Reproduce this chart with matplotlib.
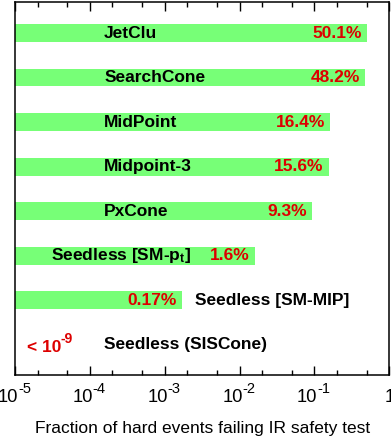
import numpy as np
import matplotlib
matplotlib.use("Agg")
import matplotlib.pyplot as plt

plt.rcParams['font.family'] = ['Liberation Sans', 'DejaVu Sans']
plt.rcParams['mathtext.fontset'] = 'custom'
plt.rcParams['mathtext.rm'] = 'Liberation Sans'
plt.rcParams['mathtext.bf'] = 'Liberation Sans:bold'
plt.rcParams['mathtext.it'] = 'Liberation Sans:italic'

# data
algos = ['JetClu', 'SearchCone', 'MidPoint', 'Midpoint-3', 'PxCone',
         r'Seedless [SM-p$_{\mathbf{t}}$]', 'Seedless [SM-MIP]', 'Seedless (SISCone)']
fractions = [0.501, 0.482, 0.164, 0.156, 0.093, 0.016, 0.0017, 1e-9]
pct_labels = ['50.1%', '48.2%', '16.4%', '15.6%', '9.3%', '1.6%', '0.17%', '< 10']
name_x = [1.55e-4, 1.55e-4, 1.55e-4, 1.55e-4, 1.55e-4, 3.0e-5, 2.55e-3, 1.55e-4]

xticks = [1e-5, 1e-4, 1e-3, 1e-2, 1e-1, 1]
xtick_exps = ['-5', '-4', '-3', '-2', '-1', None]

xmin, xmax = 1e-5, 1.0
green = '#77ff77'
red = '#dd0000'
PX = 0.72  # points per pixel at 100 dpi

fig = plt.figure(figsize=(3.91, 4.36), dpi=100)
ax = fig.add_axes([0.0384, 0.140, 0.957, 0.8556])

y = np.arange(len(algos))
for i, f in enumerate(fractions):
    if f > xmin:
        ax.barh(y[i], f - xmin, left=xmin, height=0.4, color=green, edgecolor='none')

shift = 10 ** (-5 / 74.8)
for i, (f, name, lab, nx) in enumerate(zip(fractions, algos, pct_labels, name_x)):
    ax.text(nx, y[i], name, ha='left', va='center', fontsize=12.5,
            fontweight='bold', color='black')
    if f > xmin:
        ax.text(f * shift, y[i], lab, ha='right', va='center', fontsize=12.5,
                fontweight='bold', color=red)
    else:
        # "< 10^-9" written by hand so the exponent keeps its size
        ax.annotate(lab, (1.45e-5, y[i]), xytext=(0, -7 * PX), textcoords='offset points',
                    ha='left', va='baseline', fontsize=12.5, fontweight='bold', color=red)
        ax.annotate('-9', (1.45e-5, y[i]), xytext=(33.5 * PX, 1.5 * PX), textcoords='offset points',
                    ha='left', va='baseline', fontsize=10, fontweight='bold', color=red)

ax.set_xscale('log')
ax.set_xlim(xmin, xmax)
ax.set_ylim(len(algos) - 1 + 0.68, -0.7)
ax.set_yticks([])

ax.set_xticks(xticks)
ax.set_xticklabels([])
ax.xaxis.set_minor_locator(matplotlib.ticker.LogLocator(base=10, subs=(2.0, 5.0)))
ax.xaxis.set_minor_formatter(matplotlib.ticker.NullFormatter())
ax.tick_params(axis='x', which='major', direction='in', top=True, length=6.5, width=1)
ax.tick_params(axis='x', which='minor', direction='in', top=True, length=3.6, width=1)
for s in ax.spines.values():
    s.set_linewidth(1.1)

# tick labels as 10 + raised exponent
tr = ('data', 'axes fraction')
for t, e in zip(xticks, xtick_exps):
    if e is None:
        ax.annotate('1', (t, 0), xycoords=tr, xytext=(0, -26.7 * PX),
                    textcoords='offset points', ha='center', va='baseline',
                    fontsize=13.2, annotation_clip=False)
        continue
    ax.annotate('10', (t, 0), xycoords=tr, xytext=(3 * PX, -26.7 * PX),
                textcoords='offset points', ha='right', va='baseline',
                fontsize=13.2, annotation_clip=False)
    ax.annotate(e, (t, 0), xycoords=tr, xytext=(3 * PX, -18 * PX),
                textcoords='offset points', ha='left', va='baseline',
                fontsize=10.5, annotation_clip=False)

fig.text(0.518, 1 - 433 / 436, 'Fraction of hard events failing IR safety test',
         ha='center', va='baseline', fontsize=12.5)

fig.savefig('out.png', dpi=100)
